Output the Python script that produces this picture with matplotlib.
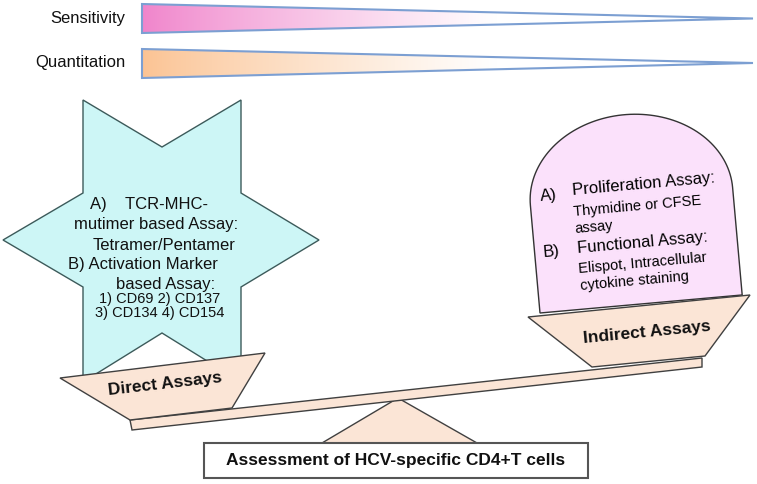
import numpy as np
import matplotlib
matplotlib.use("Agg")
import matplotlib.pyplot as plt
from matplotlib.patches import Polygon, Rectangle
from matplotlib.colors import to_rgb

plt.rcParams['font.family'] = ['Liberation Sans', 'DejaVu Sans']

# ---- text content ----
scale_labels = ["Sensitivity", "Quantitation"]
scale_colors = ["#f084cb", "#fbc393"]
star_lines = ["A)    TCR-MHC-", "mutimer based Assay:", "Tetramer/Pentamer",
              "B) Activation Marker", "based Assay:", "1) CD69 2) CD137", "3) CD134 4) CD154"]
star_sizes = [12, 12, 12, 12, 12, 10.5, 10.5]
tomb_markers = ["A)", "B)"]
tomb_heads = ["Proliferation Assay:", "Functional Assay:"]
tomb_details = [["Thymidine or CFSE", "assay"], ["Elispot, Intracellular", "cytokine staining"]]
left_label = "Direct Assays"
right_label = "Indirect Assays"
base_label = "Assessment of HCV-specific CD4+T cells"

W, H = 757, 484
fig = plt.figure(figsize=(W / 100, H / 100), dpi=100)
ax = fig.add_axes([0, 0, 1, 1])
ax.set_xlim(0, W)
ax.set_ylim(H, 0)
ax.axis("off")

EDGE = "#404040"
BASKET = "#fbe5d6"

# ---- top gradient wedges ----
wedge_y = [(4, 33, 18.5), (49, 78, 63)]
x_left, x_tip = 142, 753
for lab, col, (yt, yb, yc) in zip(scale_labels, scale_colors, wedge_y):
    poly = Polygon([(x_left, yt), (x_tip, yc), (x_left, yb)], closed=True,
                   facecolor="none", edgecolor="#7c9fd2", lw=1.5, zorder=3)
    ax.add_patch(poly)
    n = 400
    t = np.linspace(0, 1, n)
    fade = np.clip(t / 0.58, 0, 1) ** 0.85
    c = np.array(to_rgb(col))
    rgb = c[None, :] * (1 - fade[:, None]) + fade[:, None]
    img = rgb[None, :, :]
    im = ax.imshow(img, extent=(x_left, x_tip, yb, yt), origin="upper",
                   aspect="auto", zorder=2, interpolation="bilinear")
    clip = Polygon([(x_left, yt), (x_tip, yc), (x_left, yb)], closed=True,
                   transform=ax.transData)
    im.set_clip_path(clip)
    ax.text(125, yc, lab, ha="right", va="center", fontsize=12, color="#111111")

# ---- six-pointed star ----
star = [(83, 100), (162, 147), (241, 100), (241, 193), (319, 240), (241, 287),
        (241, 382), (162, 333), (83, 382), (83, 287), (3, 240), (83, 193)]
ax.add_patch(Polygon(star, closed=True, facecolor="#cdf6f6", edgecolor="#3c5a5a",
                     lw=1.0, zorder=4))
star_y = [204, 225, 245, 265, 284, 299, 313]
star_x = [149, 156, 164, 143, 166, 160, 160]
for s, fs, x, y in zip(star_lines, star_sizes, star_x, star_y):
    ax.text(x, y, s, ha="center", va="center", fontsize=fs, color="#111111", zorder=6)

# ---- tombstone (rounded top) shape ----
th = np.deg2rad(5.1)
ox, oy = 540, 313
Wt, ht, at = 203, 108, 82
eu = np.array([np.cos(th), -np.sin(th)])
ev = np.array([-np.sin(th), -np.cos(th)])
def loc(u, v):
    p = np.array([ox, oy]) + u * eu + v * ev
    return (p[0], p[1])
pts = [loc(0, 0), loc(Wt, 0), loc(Wt, ht)]
for t in np.linspace(0, np.pi, 80):
    pts.append(loc(Wt / 2 + Wt / 2 * np.cos(t), ht + at * np.sin(t)))
pts.append(loc(0, ht))
ax.add_patch(Polygon(pts, closed=True, facecolor="#fbe1fb", edgecolor="#333333",
                     lw=1.0, zorder=4))
rot = 5.1
ax.text(540, 197, tomb_markers[0], ha="left", va="center", fontsize=12,
        rotation=rot, rotation_mode="anchor", zorder=6)
ax.text(543, 253, tomb_markers[1], ha="left", va="center", fontsize=12,
        rotation=rot, rotation_mode="anchor", zorder=6)
ax.text(572, 191, tomb_heads[0], ha="left", va="center", fontsize=12,
        rotation=rot, rotation_mode="anchor", zorder=6)
ax.text(577, 249, tomb_heads[1], ha="left", va="center", fontsize=12,
        rotation=rot, rotation_mode="anchor", zorder=6)
for (x, y), s in zip([(573, 212), (575, 229)], tomb_details[0]):
    ax.text(x, y, s, ha="left", va="center", fontsize=10.5,
            rotation=rot, rotation_mode="anchor", zorder=6)
for (x, y), s in zip([(578, 269), (580, 286)], tomb_details[1]):
    ax.text(x, y, s, ha="left", va="center", fontsize=10.5,
            rotation=rot, rotation_mode="anchor", zorder=6)

# ---- beam ----
beam = [(130, 420), (702, 358), (702, 367), (132, 430)]
ax.add_patch(Polygon(beam, closed=True, facecolor=BASKET, edgecolor=EDGE, lw=1.0, zorder=5))

# ---- baskets ----
direct = [(60, 378), (265, 353), (232, 408), (130, 420)]
ax.add_patch(Polygon(direct, closed=True, facecolor=BASKET, edgecolor=EDGE, lw=1.0, zorder=7))
ax.text(165, 384, left_label, ha="center", va="center", fontsize=12.5, fontweight="bold",
        rotation=6.5, rotation_mode="anchor", zorder=8, color="#111111")
indirect = [(528, 317), (750, 295), (705, 356), (592, 367)]
ax.add_patch(Polygon(indirect, closed=True, facecolor=BASKET, edgecolor=EDGE, lw=1.0, zorder=7))
ax.text(647, 332, right_label, ha="center", va="center", fontsize=12.5, fontweight="bold",
        rotation=5.5, rotation_mode="anchor", zorder=8, color="#111111")

# ---- fulcrum and base box ----
ax.add_patch(Polygon([(322, 443), (477, 443), (398, 398)], closed=True,
                     facecolor=BASKET, edgecolor=EDGE, lw=1.0, zorder=4))
ax.add_patch(Rectangle((204, 443), 384, 35, facecolor="white", edgecolor="#555555",
                       lw=1.5, zorder=6))
ax.text(396, 461, base_label, ha="center", va="center", fontsize=12.5,
        fontweight="bold", zorder=7, color="#111111")

fig.savefig("out.png", dpi=100)
